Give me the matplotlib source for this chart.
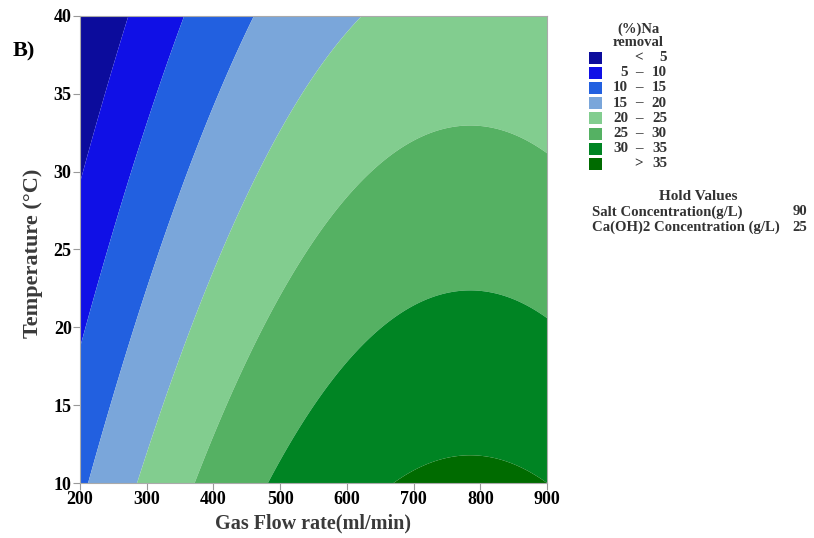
import numpy as np
import matplotlib
matplotlib.use("Agg")
import matplotlib.pyplot as plt
from matplotlib.colors import ListedColormap, BoundaryNorm
from matplotlib.patches import Rectangle

gas_range = [200, 900]          # ml/min
temp_range = [10, 40]           # degC
gas_opt = 785.0                 # gas flow at maximum removal
z_max_at_10C = 35.84            # max removal at T = 10 C
gas_curvature = -6.35e-5        # quadratic coefficient in gas flow
temp_slope = -0.472             # linear change per degC

levels = [-100, 5, 10, 15, 20, 25, 30, 35, 100]
colors = ["#0c0c9c", "#1010e6", "#2260e0", "#7aa6da",
          "#82cd8f", "#55b163", "#008423", "#006b00"]
legend_left = ["", "5", "10", "15", "20", "25", "30", ""]
legend_mid = ["<", "\u2013", "\u2013", "\u2013", "\u2013", "\u2013", "\u2013", ">"]
legend_right = ["5", "10", "15", "20", "25", "30", "35", "35"]
xticks = [200, 300, 400, 500, 600, 700, 800, 900]
yticks = [10, 15, 20, 25, 30, 35, 40]
hold_names = ["Salt Concentration(g/L)", "Ca(OH)2 Concentration (g/L)"]
hold_values = ["90", "25"]

plt.rcParams['font.family'] = ['Liberation Serif', 'DejaVu Serif']
plt.rcParams['font.weight'] = 'bold'

fig = plt.figure(figsize=(8.14, 5.38), dpi=100)
W, H = 814, 538
ax = fig.add_axes([80 / W, 1 - 483 / H, 467 / W, 467 / H])

g = np.linspace(gas_range[0], gas_range[1], 400)
t = np.linspace(temp_range[0], temp_range[1], 400)
G, T = np.meshgrid(g, t)
Z = z_max_at_10C + gas_curvature * (G - gas_opt) ** 2 + temp_slope * (T - 10)

cmap = ListedColormap(colors)
norm = BoundaryNorm(levels, cmap.N)
ax.contourf(G, T, Z, levels=levels, cmap=cmap, norm=norm, antialiased=True)

ax.set_xlim(gas_range)
ax.set_ylim(temp_range)
ax.set_xticks(xticks)
ax.set_yticks(yticks)
ax.tick_params(direction='out', length=5, width=0.8, color='#999999',
               labelsize=13, pad=1)
for lab in ax.get_xticklabels() + ax.get_yticklabels():
    lab.set_fontweight('bold')
for s in ax.spines.values():
    s.set_color('#aaaaaa')
    s.set_linewidth(0.8)

fig.text(313 / W, 1 - 523 / H, "Gas Flow rate(ml/min)", fontsize=14.5,
         fontweight='bold', color='#3a3a3a', ha='center', va='center')
fig.text(33 / W, 1 - 253 / H, "Temperature (\u00b0C)", fontsize=16,
         fontweight='bold', color='#3a3a3a', ha='center', va='center',
         rotation=90)

fig.text(13 / W, 1 - 51 / H, "B)", fontsize=16, fontweight='bold',
         ha='left', va='center')

# legend
fs = 10.8
fig.text(638 / W, 1 - 29 / H, "(%)Na", fontsize=10.5, fontweight='bold',
         ha='center', va='center', color='#333333')
fig.text(638 / W, 1 - 43 / H, "removal", fontsize=10.5, fontweight='bold',
         ha='center', va='center', color='#333333')
for i, c in enumerate(colors):
    yc = 57.5 + i * 15.2
    fig.patches.append(Rectangle((589 / W, 1 - (yc + 6) / H), 13 / W, 12 / H,
                                 transform=fig.transFigure, facecolor=c,
                                 edgecolor='none'))
    if legend_left[i]:
        fig.text(628 / W, 1 - yc / H, legend_left[i], fontsize=fs,
                 fontweight='bold', ha='right', va='center', color='#333333')
    fig.text(639 / W, 1 - yc / H, legend_mid[i], fontsize=fs,
             fontweight='bold', ha='center', va='center', color='#333333')
    fig.text(667 / W, 1 - yc / H, legend_right[i], fontsize=fs,
             fontweight='bold', ha='right', va='center', color='#333333')

fig.text(698 / W, 1 - 197 / H, "Hold Values", fontsize=11, fontweight='bold',
         ha='center', va='center', color='#333333')
for i, (n, v) in enumerate(zip(hold_names, hold_values)):
    yc = 212 + i * 15
    fig.text(592 / W, 1 - yc / H, n, fontsize=10.6, fontweight='bold',
             ha='left', va='center', color='#333333')
    fig.text(807 / W, 1 - yc / H, v, fontsize=10.6, fontweight='bold',
             ha='right', va='center', color='#333333')

fig.savefig("out.png", dpi=100)
